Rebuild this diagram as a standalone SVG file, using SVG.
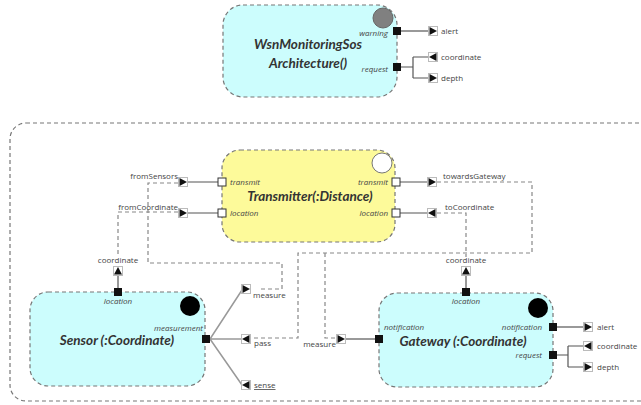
<svg xmlns="http://www.w3.org/2000/svg" xmlns:xlink="http://www.w3.org/1999/xlink" width="641" height="405" viewBox="0 0 641 405">
<style>
.frame{fill:none;stroke:#777;stroke-width:1.2;stroke-dasharray:4 3}
.cyan{fill:#ccfdfd;stroke:#777;stroke-width:1.2;stroke-dasharray:4 3}
.yellow{fill:#fdfa9a;stroke:#777;stroke-width:1.2;stroke-dasharray:4 3}
.title{font-family:Lato,"Liberation Sans",sans-serif;font-style:italic;font-weight:bold;font-size:13.5px;fill:#333;text-anchor:middle}
.pl{font-family:"Open Sans","Liberation Sans",sans-serif;font-style:italic;font-size:8px;fill:#444}
.cl{font-family:"Open Sans","Liberation Sans",sans-serif;font-size:8px;fill:#444}
.end{text-anchor:end}
.solid{fill:none;stroke:#555;stroke-width:1.2}
.gline{fill:none;stroke:#999;stroke-width:1.5}
.dash{fill:none;stroke:#888;stroke-width:1.2;stroke-dasharray:4 3}
.pb{fill:#111}
.pw{fill:#fff;stroke:#333;stroke-width:1}
</style>
<defs>
<g id="aR"><rect x="-4.5" y="-4.5" width="9" height="9" fill="#fff" stroke="#bbb" stroke-width="1"/><path d="M-3.5,-4 L4,0 L-3.5,4 Z" fill="#111"/></g>
<g id="aL"><rect x="-4.5" y="-4.5" width="9" height="9" fill="#fff" stroke="#bbb" stroke-width="1"/><path d="M3.5,-4 L-4,0 L3.5,4 Z" fill="#111"/></g>
<g id="aU"><rect x="-4.5" y="-4.5" width="9" height="9" fill="#fff" stroke="#bbb" stroke-width="1"/><path d="M-4,3.5 L0,-4 L4,3.5 Z" fill="#111"/></g>
</defs>

<rect class="frame" x="10" y="123" width="650" height="278" rx="16"/>

<g id="connectors">
<path class="solid" d="M401,31 H429"/>
<path class="solid" d="M401,67 H413 M413,57 V78 M413,57 H429 M413,78 H429"/>
<path class="solid" d="M187,182 H218 M187,213 H218"/>
<path class="solid" d="M400,182 H428 M400,213 H428"/>
<path class="dash" d="M178,183 H148 V263 H282 V289 H260"/>
<path class="dash" d="M178,212 H118 V257"/>
<path class="dash" d="M437,182 H532 V253 H298 V338 H252"/>
<path class="dash" d="M325,253 V338 H336"/>
<path class="dash" d="M437,213 H466 V257"/>
<path class="solid" d="M118,288 V276"/>
<path class="gline" d="M210,339 L242,290 M210,339 H242 M210,339 L242,385"/>
<path class="solid" d="M466,288 V276"/>
<path class="solid" d="M345,339 H375"/>
<path class="solid" d="M557,327 H584"/>
<path class="solid" d="M557,355 H568 M568,346 V367 M568,346 H584 M568,367 H584"/>
</g>

<g id="wsn">
<rect class="cyan" x="223" y="5" width="174" height="92" rx="20"/>
<circle cx="383" cy="18" r="10" fill="#808080" stroke="#666" stroke-width="1"/>
<text class="title" x="308" y="49">WsnMonitoringSos</text>
<text class="title" x="308" y="68">Architecture()</text>
<rect class="pb" x="393" y="27" width="8" height="8"/>
<rect class="pb" x="393" y="63" width="8" height="8"/>
<text class="pl end" x="388" y="36">warning</text>
<text class="pl end" x="388" y="72">request</text>
<use href="#aR" x="433" y="31"/>
<text class="cl" x="441" y="34">alert</text>
<use href="#aL" x="433" y="57"/>
<text class="cl" x="441" y="60">coordinate</text>
<use href="#aR" x="433" y="78"/>
<text class="cl" x="441" y="81">depth</text>
</g>

<g id="transmitter">
<rect class="yellow" x="222" y="150" width="173" height="92" rx="18"/>
<circle cx="382" cy="163" r="10" fill="#fff" stroke="#777" stroke-width="1"/>
<text class="title" x="310" y="201">Transmitter(:Distance)</text>
<rect class="pw" x="218" y="178" width="8" height="8"/>
<rect class="pw" x="218" y="209" width="8" height="8"/>
<rect class="pw" x="392" y="178" width="8" height="8"/>
<rect class="pw" x="392" y="209" width="8" height="8"/>
<text class="pl" x="230" y="185">transmit</text>
<text class="pl" x="230" y="216">location</text>
<text class="pl end" x="388" y="185">transmit</text>
<text class="pl end" x="388" y="216">location</text>
<use href="#aR" x="183" y="182"/>
<text class="cl end" x="178" y="179">fromSensors</text>
<use href="#aR" x="183" y="213"/>
<text class="cl end" x="178" y="210">fromCoordinate</text>
<use href="#aR" x="432" y="182"/>
<text class="cl" x="443" y="179">towardsGateway</text>
<use href="#aL" x="432" y="213"/>
<text class="cl" x="445" y="210">toCoordinate</text>
</g>

<g id="sensor">
<rect class="cyan" x="30" y="292" width="175" height="94" rx="18"/>
<circle cx="190" cy="306" r="10" fill="#000"/>
<text class="title" x="117" y="345">Sensor (:Coordinate)</text>
<rect class="pb" x="114" y="288" width="8" height="8"/>
<text class="pl" x="118" y="304" text-anchor="middle">location</text>
<rect class="pb" x="202" y="335" width="8" height="8"/>
<text class="pl end" x="203" y="331">measurement</text>
<use href="#aU" x="118" y="271"/>
<text class="cl" x="118" y="263" text-anchor="middle">coordinate</text>
<use href="#aR" x="246" y="289"/>
<text class="cl" x="253" y="298">measure</text>
<use href="#aL" x="246" y="339"/>
<text class="cl" x="254" y="346">pass</text>
<use href="#aL" x="246" y="385"/>
<text class="cl" x="254" y="388" text-decoration="underline">sense</text>
</g>

<g id="gateway">
<rect class="cyan" x="379" y="293" width="174" height="94" rx="18"/>
<circle cx="538" cy="308" r="10" fill="#000"/>
<text class="title" x="463" y="346">Gateway (:Coordinate)</text>
<rect class="pb" x="462" y="288" width="8" height="8"/>
<text class="pl" x="466" y="304" text-anchor="middle">location</text>
<rect class="pb" x="375" y="335" width="8" height="8"/>
<text class="pl" x="384" y="330">notification</text>
<rect class="pb" x="549" y="323" width="8" height="8"/>
<text class="pl end" x="542" y="330">notification</text>
<rect class="pb" x="549" y="351" width="8" height="8"/>
<text class="pl end" x="542" y="358">request</text>
<use href="#aU" x="466" y="271"/>
<text class="cl" x="466" y="263" text-anchor="middle">coordinate</text>
<use href="#aR" x="341" y="339"/>
<text class="cl end" x="336" y="347">measure</text>
<use href="#aR" x="588" y="327"/>
<text class="cl" x="597" y="330">alert</text>
<use href="#aL" x="588" y="346"/>
<text class="cl" x="597" y="349">coordinate</text>
<use href="#aR" x="588" y="367"/>
<text class="cl" x="597" y="370">depth</text>
</g>
</svg>
